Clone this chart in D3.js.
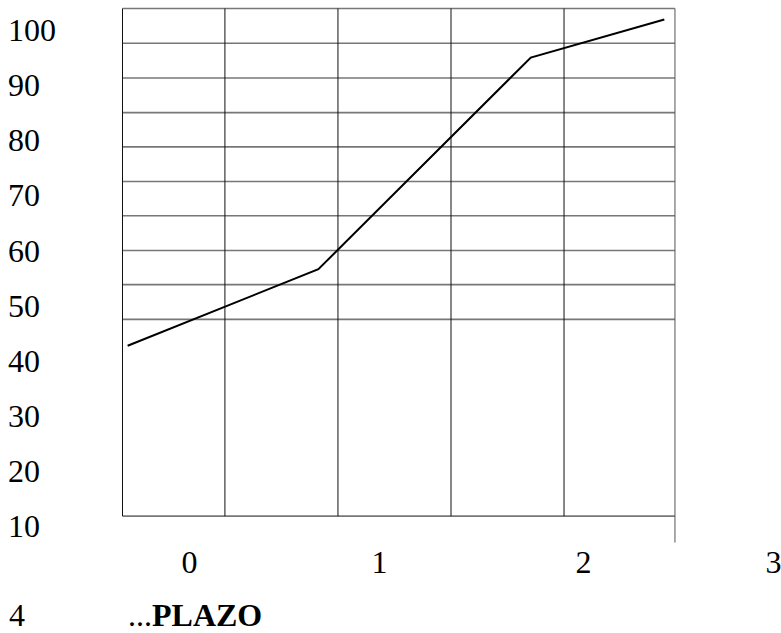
<!DOCTYPE html>
<html>
<head>
<meta charset="utf-8">
<script src="https://cdn.jsdelivr.net/npm/d3@7"></script>
<style>
  body { margin: 0; background: #fff; overflow: hidden; }
  svg { display: block; }
  text { font-family: "Liberation Serif", "Times New Roman", serif; fill: #000; }
</style>
</head>
<body>
<div id="chart-area"></div>
<script>
const WIDTH = 781
const HEIGHT = 633

// tick labels
const yTicks = [10, 20, 30, 40, 50, 60, 70, 80, 90, 100]
const xTicks = [0, 1, 2, 3]

// the line, in axis units
const lineX = [-0.323, 0.681, 1.744, 2.428]
const lineY = [42.7, 56.6, 95.0, 101.9]

// grid of the frame, in axis units
const gridCols = [-0.35, 0.189, 0.784, 1.353, 1.907, 2.484]
const gridRows = [103.9, 97.6, 91.3, 85.0, 78.8, 72.5, 66.3, 60.0, 53.8, 47.5]
const frameBottom = 11.8
const rightEdgeBottom = 7.0

const FONT = "32px"

const svg = d3.select("#chart-area")
    .append("svg")
    .attr("width", WIDTH)
    .attr("height", HEIGHT)

const x = d3.scaleLinear()
    .domain([0, 1, 2, 3])
    .range([189, 379, 583, 773])

const y = d3.scaleLinear()
    .domain([10, 100])
    .range([526, 30])

const frameTop = d3.max(gridRows)
const left = d3.min(gridCols)
const right = d3.max(gridCols)

// horizontal grid lines (upper part only)
svg.append("g")
    .selectAll("line")
    .data(gridRows)
    .enter().append("line")
    .attr("x1", x(left))
    .attr("x2", x(right))
    .attr("y1", d => y(d))
    .attr("y2", d => y(d))
    .attr("stroke", "#777")
    .attr("stroke-width", 1.6)

// bottom of frame
svg.append("line")
    .attr("x1", x(left))
    .attr("x2", x(right))
    .attr("y1", y(frameBottom))
    .attr("y2", y(frameBottom))
    .attr("stroke", "#777")
    .attr("stroke-width", 1.6)

// vertical grid lines
svg.append("g")
    .selectAll("line")
    .data(gridCols)
    .enter().append("line")
    .attr("x1", d => x(d))
    .attr("x2", d => x(d))
    .attr("y1", y(frameTop))
    .attr("y2", (d, i) => i === gridCols.length - 1 ? y(rightEdgeBottom) : y(frameBottom))
    .attr("stroke", (d, i) => i === gridCols.length - 1 ? "#555" : "#111")
    .attr("stroke-width", 1)

// the line
const line = d3.line()
    .x(d => x(d[0]))
    .y(d => y(d[1]))

svg.append("path")
    .datum(d3.zip(lineX, lineY))
    .attr("d", line)
    .attr("fill", "none")
    .attr("stroke", "#000")
    .attr("stroke-width", 2)

// Y labels, left aligned
const yAxisCall = d3.axisLeft(y)
    .tickValues(yTicks)
    .tickSize(0)
    .tickFormat(d => d)
const yAxis = svg.append("g")
    .attr("class", "y axis")
    .call(yAxisCall)
yAxis.select(".domain").remove()
yAxis.selectAll("text")
    .attr("x", 8)
    .attr("dy", "0.33em")
    .attr("text-anchor", "start")
    .style("font-size", FONT)

// X labels
const xAxisCall = d3.axisBottom(x)
    .tickValues(xTicks)
    .tickSize(0)
    .tickFormat(d => d)
const xAxis = svg.append("g")
    .attr("class", "x axis")
    .attr("transform", "translate(0, 573)")
    .call(xAxisCall)
xAxis.select(".domain").remove()
xAxis.selectAll("text")
    .attr("y", 0)
    .attr("dy", null)
    .style("font-size", FONT)

// bottom texts
svg.append("text")
    .attr("x", 9)
    .attr("y", 626)
    .style("font-size", FONT)
    .text("4")

const title = svg.append("text")
    .attr("x", 128)
    .attr("y", 626)
    .style("font-size", FONT)
title.append("tspan").text("...")
title.append("tspan").attr("font-weight", "bold").text("PLAZO")
</script>
</body>
</html>
